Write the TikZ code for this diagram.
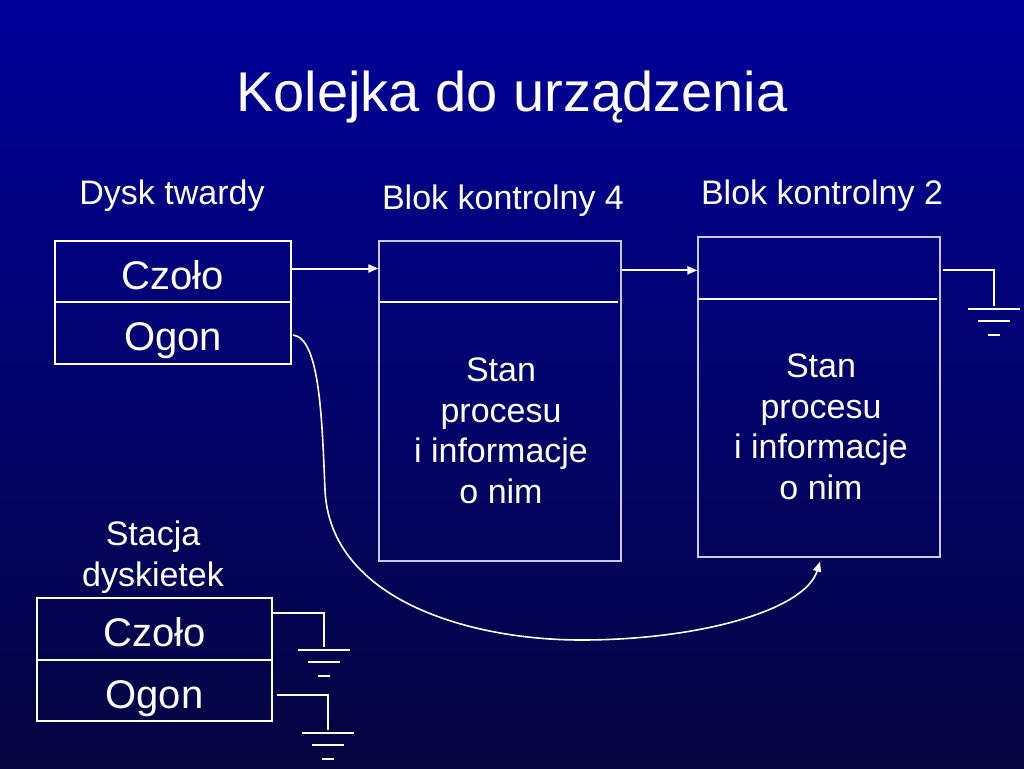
\documentclass[tikz,border=0pt]{standalone}
\usepackage{fontspec}
\setmainfont{Liberation Sans}
\usetikzlibrary{arrows.meta,calc}
\definecolor{bgtop}{HTML}{00009A}
\definecolor{bgmid}{HTML}{02027A}
\definecolor{bgbot}{HTML}{040440}
\definecolor{framec}{HTML}{C8C8F0}
\begin{document}
\begin{tikzpicture}[x=1pt,y=-1pt,
  cell/.style={draw=white, line width=2pt, minimum width=236pt, minimum height=61.5pt, inner sep=0pt, text=white, text height=35pt, text depth=0pt, font=\fontsize{40}{48}\selectfont},
  block/.style={draw=framec, line width=1.3pt, minimum width=242pt, minimum height=320pt, inner sep=0pt},
  lbl/.style={text=white, font=\fontsize{34}{40.5}\selectfont, align=center, inner sep=0pt},
  wire/.style={white, line width=2pt},
  arr/.style={wire, -{Triangle[length=10pt,width=8pt]}},
  curvearr/.style={white, line width=1.6pt, -{Triangle[length=10pt,width=8pt]}},
  ground/.pic={\draw[wire] (-26,3)--(26,3); \draw[wire] (-16,15)--(16,15); \draw[wire] (-6,29)--(6,29);}
]
\shade[top color=bgtop, middle color=bgmid, bottom color=bgbot] (0,0) rectangle (1024,768);
\useasboundingbox (0,0) rectangle (1024,768);

\node[text=white, font=\fontsize{56}{60}\selectfont, inner sep=0pt] (title) at (512,97) {Kolejka do urządzenia};

\node[lbl] (l1) at (172,196) {Dysk twardy};
\node[lbl] (l2) at (503,201) {Blok kontrolny 4};
\node[lbl] (l3) at (822,196) {Blok kontrolny 2};
\node[lbl] (l4) at (153,557) {Stacja\\dyskietek};

\node[cell] (c1) at (173,271.5) {Czoło};
\node[cell] (o1) at (173,333) {Ogon};
\node[cell, minimum width=235pt] (c2) at (154.5,629) {Czoło};
\node[cell, minimum width=235pt] (o2) at (154.5,690.5) {Ogon};

\node[block] (b4) at (500,401) {};
\node[block] (b2) at (819,397) {};
\draw[wire] ($(b4.north west)+(2,62)$) -- ($(b4.north east)+(-4,62)$);
\draw[wire] ($(b2.north west)+(2,63)$) -- ($(b2.north east)+(-4,63)$);

\node[lbl] (s4) at (501,431) {Stan\\procesu\\i informacje\\o nim};
\node[lbl] (s2) at (821,427) {Stan\\procesu\\i informacje\\o nim};

\coordinate (a1s) at ($(c1.east)+(0,-3)$);
\draw[arr] (a1s) -- (a1s -| b4.west);
\coordinate (a2s) at ($(b4.north east)+(0,30)$);
\draw[arr] (a2s) -- (a2s -| b2.west);

\coordinate (g1) at ($(b2.north east)+(2,34)$);
\draw[wire] (g1) -| ++(51,36) coordinate (g1e);
\pic at (g1e) {ground};

\coordinate (g2) at ($(c2.east)+(0,-16)$);
\draw[wire] (g2) -| ++(51,34) coordinate (g2e);
\pic at (g2e) {ground};

\coordinate (g3) at ($(o2.east)+(4,4.5)$);
\draw[wire] (g3) -| ++(51,35) coordinate (g3e);
\pic at (g3e) {ground};

\coordinate (tip) at ($(b2.south)+(1,4)$);
\draw[curvearr] ($(o1.east)+(1,2)$) .. controls (320,338) and (322,420) .. (325,490)
  .. controls (330,600) and (470,640) .. (581,640)
  .. controls (700,640) and (805,610) .. (tip);
\end{tikzpicture}
\end{document}
